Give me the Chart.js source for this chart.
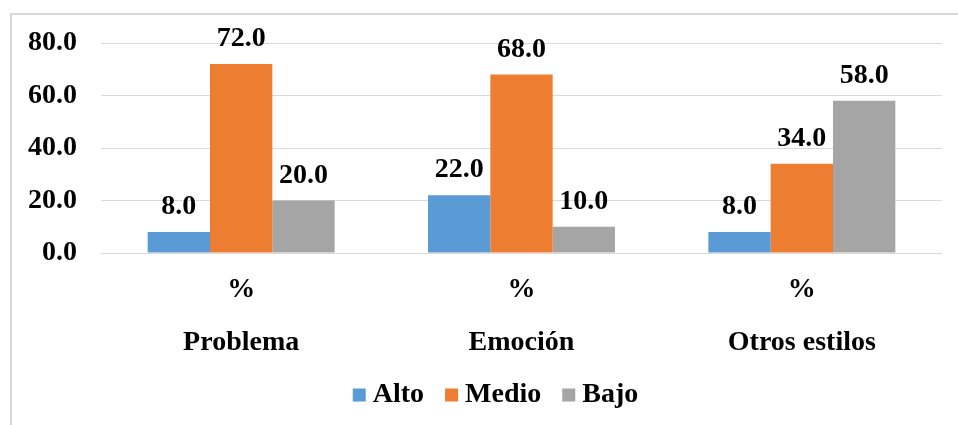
<!DOCTYPE html>
<html>
<head>
<meta charset="utf-8">
<script src="https://cdn.jsdelivr.net/npm/chart.js@4/dist/chart.umd.min.js"></script>
<style>
  html, body { margin: 0; padding: 0; background: #ffffff; }
  #wrap { position: relative; width: 958px; height: 425px; }
  canvas { display: block; }
</style>
</head>
<body>
<div id="wrap"><canvas id="c" width="958" height="425"></canvas></div>
<script>
const categories = ["Problema", "Emoción", "Otros estilos"];
const unitLabel = "%";
const seriesNames = ["Alto", "Medio", "Bajo"];
const alto = [8.0, 22.0, 8.0];
const medio = [72.0, 68.0, 34.0];
const bajo = [20.0, 10.0, 58.0];
const yTicks = [0, 20, 40, 60, 80];

const colors = ["#5B9BD5", "#ED7D31", "#A5A5A5"];
const FONT = "'Liberation Serif', 'Times New Roman', serif";

const frame = {
  id: 'frame',
  beforeDraw(chart) {
    const ctx = chart.ctx;
    ctx.save();
    ctx.fillStyle = '#ffffff';
    ctx.fillRect(0, 0, chart.width, chart.height);
    ctx.strokeStyle = '#D9D9D9';
    ctx.lineWidth = 2;
    ctx.strokeRect(11, 14, 2000, 2000);
    ctx.restore();
  }
};

const valueLabels = {
  id: 'valueLabels',
  afterDatasetsDraw(chart) {
    const ctx = chart.ctx;
    ctx.save();
    ctx.font = "bold 28px " + FONT;
    ctx.fillStyle = '#000000';
    ctx.textAlign = 'center';
    ctx.textBaseline = 'middle';
    chart.data.datasets.forEach((ds, i) => {
      const meta = chart.getDatasetMeta(i);
      meta.data.forEach((bar, j) => {
        ctx.fillText(ds.data[j].toFixed(1), bar.x, bar.y - 25);
      });
    });
    ctx.restore();
  }
};

// Legend drawn from the datasets: square swatch, small gap, text
const bottomLegend = {
  id: 'bottomLegend',
  afterDraw(chart) {
    const ctx = chart.ctx;
    ctx.save();
    ctx.font = "bold 28px " + FONT;
    const box = 13, gapText = 7, gapItem = 21;
    const items = chart.data.datasets.map(ds => ({
      label: ds.label, color: ds.backgroundColor, w: ctx.measureText(ds.label).width
    }));
    let total = 0;
    items.forEach((it, i) => { total += box + gapText + it.w + (i < items.length - 1 ? gapItem : 0); });
    let x = 495.5 - total / 2;
    const cy = 395;
    ctx.textBaseline = 'middle';
    ctx.textAlign = 'left';
    items.forEach(it => {
      ctx.fillStyle = it.color;
      ctx.fillRect(x, cy - box / 2, box, box);
      x += box + gapText;
      ctx.fillStyle = '#000000';
      ctx.fillText(it.label, x, cy);
      x += it.w + gapItem;
    });
    ctx.restore();
  }
};

const seriesData = [alto, medio, bajo];
new Chart(document.getElementById('c'), {
  type: 'bar',
  data: {
    labels: categories.map(c => [unitLabel, c]),
    datasets: seriesNames.map((n, i) => ({
      label: n,
      data: seriesData[i],
      backgroundColor: colors[i],
      borderWidth: 0,
      categoryPercentage: 0.667,
      barPercentage: 1.0
    }))
  },
  options: {
    responsive: false,
    animation: false,
    devicePixelRatio: 1,
    layout: { padding: { top: 43, left: 0, right: 16, bottom: 0 } },
    plugins: {
      tooltip: { enabled: false },
      legend: { display: false }
    },
    scales: {
      x: {
        afterFit(axis) { axis.height = 172; },
        grid: { display: false, drawTicks: false },
        border: { display: false },
        ticks: {
          color: '#000000',
          padding: 10,
          maxRotation: 0,
          font: { family: FONT, size: 28, weight: 'bold', lineHeight: 1.9 }
        }
      },
      y: {
        min: 0,
        max: 80,
        afterFit(axis) { axis.width = 101; },
        afterBuildTicks(axis) { axis.ticks = yTicks.map(v => ({ value: v })); },
        grid: { color: '#D9D9D9', lineWidth: 1, drawTicks: false },
        border: { display: false },
        ticks: {
          color: '#000000',
          padding: 24,
          font: { family: FONT, size: 28, weight: 'bold' },
          callback: v => Number(v).toFixed(1)
        }
      }
    }
  },
  plugins: [frame, valueLabels, bottomLegend]
});
</script>
</body>
</html>
